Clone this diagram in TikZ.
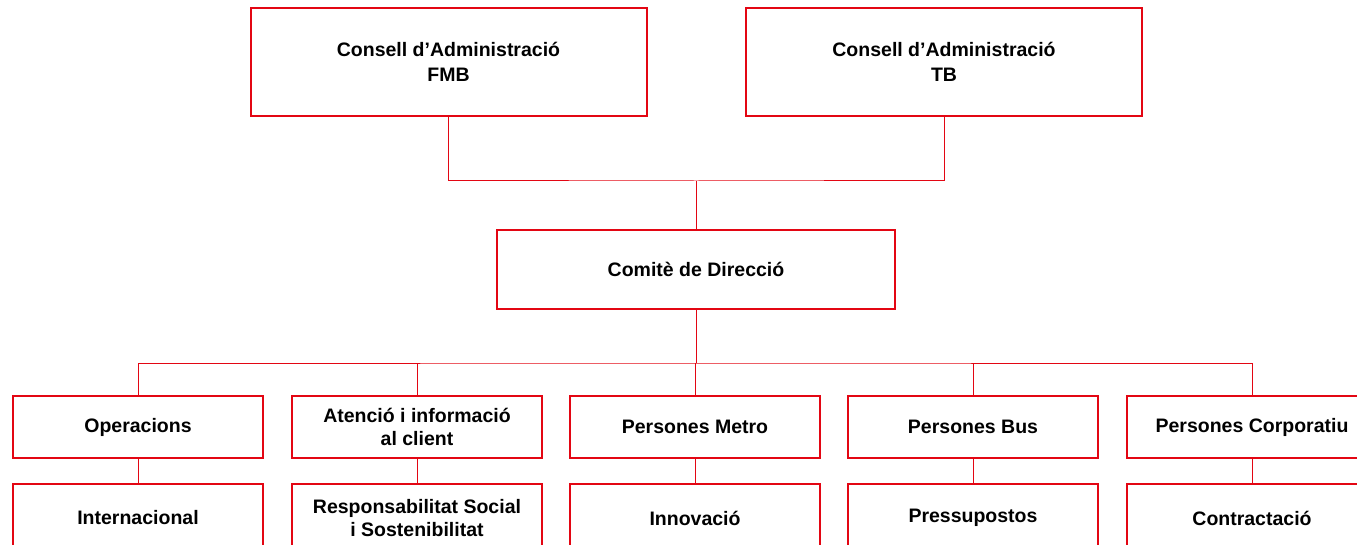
\documentclass[tikz,border=0pt]{standalone}
\usepackage{fontspec}
\setmainfont{Liberation Sans}
\usetikzlibrary{calc}
\definecolor{tmbred}{RGB}{227,6,19}

\begin{document}
\begin{tikzpicture}[
  x=1pt,y=-1pt,
  box/.style={draw=tmbred, line width=1.4pt, minimum width=250, minimum height=62, align=center, font=\fontsize{19.5}{23.5}\selectfont\bfseries, inner sep=2pt},
  board/.style={box, line width=2pt, minimum width=396, minimum height=108, font=\fontsize{19.5}{25.5}\selectfont\bfseries},
  lowbox/.style={box, minimum height=68},
  link/.style={draw=tmbred, line width=1pt}
]
\clip (0,0) rectangle (1357,545);
\node[board] (fmb) at (448.5,62) {Consell d’Administració\\FMB};
\node[board] (tb) at (944,62) {Consell d’Administració\\TB};
\node[board, minimum width=398, minimum height=79] (comite) at (696,269.5) {Comitè de Direcció};
\node[box] (ops) at (138,427) {Operacions};
\node[box] (aten) at (417,427) {Atenció i informació\\al client};
\node[box] (metro) at (695,427) {Persones Metro};
\node[box] (pbus) at (973,427) {Persones Bus};
\node[box] (corp) at (1252,427) {Persones Corporatiu};
\node[lowbox] (intl) at (138,518) {Internacional};
\node[lowbox] (rsc) at (417,518) {Responsabilitat Social\\i Sostenibilitat};
\node[lowbox] (innov) at (695,518) {Innovació};
\node[lowbox] (press) at (973,518) {Pressupostos};
\node[lowbox] (contr) at (1252,518) {Contractació};
\coordinate (join) at (696,181);
\coordinate (spine) at (696,363);
\draw[link] (fmb.south) |- (join) -| (tb.south); \draw[link] (join) -- (comite.north); \draw[link] (comite.south) -- (spine);
\draw[link] (ops.north) |- (spine) -| (corp.north);
\foreach \n in {aten,metro,pbus} \draw[link] (\n.north) -- (\n.north |- spine);
\foreach \a/\b in {ops/intl,aten/rsc,metro/innov,pbus/press,corp/contr} \draw[link] (\a) -- (\b);
\end{tikzpicture}
\end{document}
